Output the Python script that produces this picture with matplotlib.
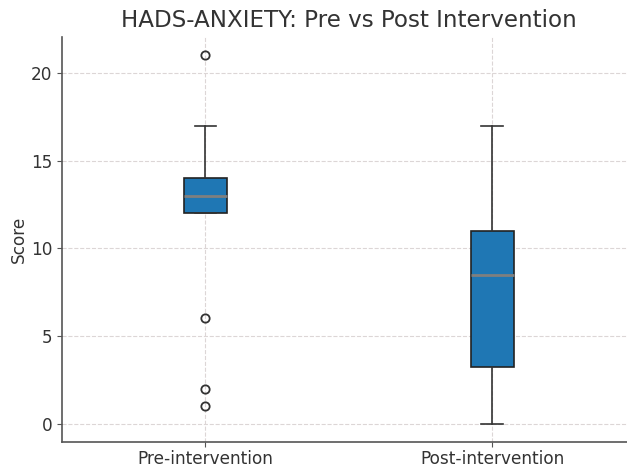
import matplotlib
matplotlib.use("Agg")
import matplotlib.pyplot as plt

# Summary statistics for HADS anxiety scores
groups = ["Pre-intervention", "Post-intervention"]
q1 = [12.0, 3.25]
median = [13.0, 8.5]
q3 = [14.0, 11.0]
whisker_low = [12.0, 0.0]
whisker_high = [17.0, 17.0]
outliers = [[21, 6, 2, 1], []]

stats = []
for i, name in enumerate(groups):
    stats.append(dict(label=name, q1=q1[i], med=median[i], q3=q3[i],
                      whislo=whisker_low[i], whishi=whisker_high[i],
                      fliers=outliers[i]))

fig = plt.figure(figsize=(6.27, 4.68), dpi=100)
ax = fig.add_axes([0.0989, 0.0556, 0.9147, 0.8654])

bp = ax.bxp(stats, positions=[1, 2], patch_artist=True,
            boxprops=dict(facecolor="#1f77b4", edgecolor="#222222", linewidth=1.2),
            medianprops=dict(color="#7f7f7f", linewidth=2),
            whiskerprops=dict(color="#333333", linewidth=1.2),
            capprops=dict(color="#333333", linewidth=1.2),
            flierprops=dict(marker="o", markerfacecolor="none",
                            markeredgecolor="#333333", markersize=6, markeredgewidth=1.3))

ax.set_xlim(0.5, 2.5)
ax.set_ylim(-1.05, 22.05)
ax.set_yticks([0, 5, 10, 15, 20])
ax.grid(True, linestyle="--", color="#dcd6d6", linewidth=0.8)
ax.set_axisbelow(True)
for side in ("top", "right"):
    ax.spines[side].set_visible(False)
for side in ("left", "bottom"):
    ax.spines[side].set_color("#555555")
    ax.spines[side].set_linewidth(1.2)
ax.tick_params(colors="#555555", labelcolor="#333333", labelsize=12.2)
ax.tick_params(axis="x", pad=2.5)
ax.set_ylabel("Score", fontsize=12.2, color="#333333", labelpad=2)
ax.set_title("HADS-ANXIETY: Pre vs Post Intervention", fontsize=16.6, color="#333333", pad=7)

fig.savefig("out.png", dpi=100)
